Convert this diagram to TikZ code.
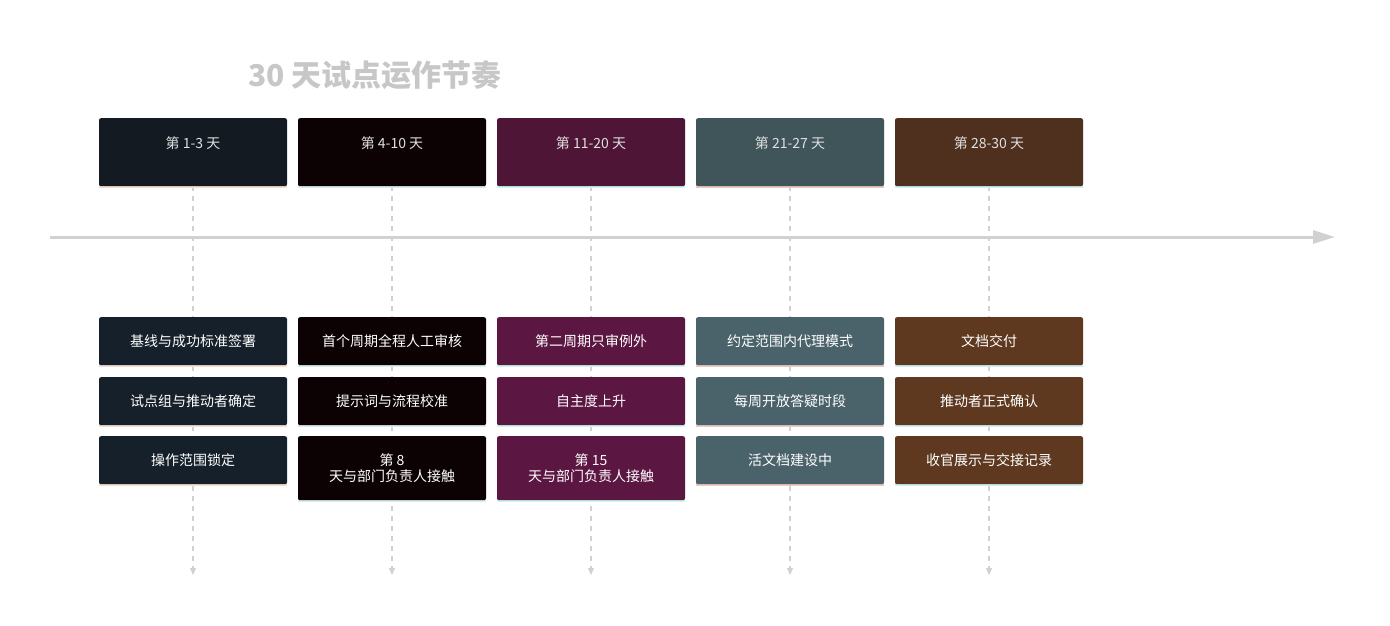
\documentclass[tikz,border=0pt]{standalone}
\usepackage{fontspec}
\setmainfont{Noto Sans CJK SC}
\usetikzlibrary{arrows.meta}
\definecolor{cA}{HTML}{131A22}\definecolor{cAb}{HTML}{16202A}
\definecolor{cB}{HTML}{0C0204}\definecolor{cBb}{HTML}{0C0204}
\definecolor{cC}{HTML}{4E1537}\definecolor{cCb}{HTML}{5B1641}
\definecolor{cD}{HTML}{3F555A}\definecolor{cDb}{HTML}{4A626A}
\definecolor{cE}{HTML}{4F2F1E}\definecolor{cEb}{HTML}{5E3920}
\definecolor{sA}{HTML}{F3DED0}\definecolor{sB}{HTML}{D8EEEA}
\definecolor{sC}{HTML}{CDF6EA}\definecolor{sD}{HTML}{E8C8C0}\definecolor{sE}{HTML}{CFEFF3}
\tikzset{
 box/.style={rounded corners=2pt,minimum width=188pt,inner sep=0pt,text=white,font=\fontsize{14}{16}\selectfont,align=center,anchor=north},
 top/.style={box,minimum height=68pt},
 sub/.style={box,minimum height=48pt},
 sub2/.style={box,minimum height=64pt},
 guide/.style={draw=black!18,line width=1.2pt,dash pattern=on 5pt off 5pt,-{Triangle[length=7pt,width=6pt]}},
}
\begin{document}
\begin{tikzpicture}[x=1pt,y=-1pt]
\useasboundingbox[fill=white] (0,0) rectangle (1390,625);
\node[anchor=west,text=black!22,font=\fontsize{30}{34}\selectfont\bfseries] (title) at (245,75) {30 天试点运作节奏};
\coordinate (a0) at (50,237); \coordinate (a1) at (1335,237);
\draw[draw=black!18,line width=3pt,-{Triangle[length=22pt,width=13pt]}] (a0) -- (a1);
\foreach \x/\c/\s/\t [count=\i] in {193/cA/sA/第 1-3 天,392/cB/sB/第 4-10 天,591/cC/sC/第 11-20 天,790/cD/sD/第 21-27 天,989/cE/sE/第 28-30 天}{
 \coordinate (d\i) at (\x,186); \coordinate (e\i) at (\x,575);
 \draw[guide] (d\i) -- (e\i);
 \fill[\s] (\x-94,184) rectangle (\x+94,188);
 \node[top,fill=\c] (t\i) at (\x,118) {};
 \node[text=white!88!black,font=\fontsize{14}{16}\selectfont] (tl\i) at (\x,143) {\t};
}
\foreach \x/\c/\s/\ta/\tb [count=\i] in {
193/cAb/sA/基线与成功标准签署/试点组与推动者确定,
392/cBb/sB/首个周期全程人工审核/提示词与流程校准,
591/cCb/sC/第二周期只审例外/自主度上升,
790/cDb/sD/约定范围内代理模式/每周开放答疑时段,
989/cEb/sE/文档交付/推动者正式确认}{
 \fill[\s] (\x-94,363) rectangle (\x+94,367);
 \fill[\s] (\x-94,423) rectangle (\x+94,427);
 \node[sub,fill=\c] (p\i) at (\x,317) {\ta};
 \node[sub,fill=\c] (q\i) at (\x,377) {\tb};
}
\fill[sA] (99,482) rectangle (287,486);
\node[sub,fill=cAb] (r1) at (193,436) {操作范围锁定};
\fill[sB] (298,498) rectangle (486,502);
\node[sub2,fill=cBb] (r2) at (392,436) {第 8\\天与部门负责人接触};
\fill[sC] (497,498) rectangle (685,502);
\node[sub2,fill=cCb] (r3) at (591,436) {第 15\\天与部门负责人接触};
\fill[sD] (696,482) rectangle (884,486);
\node[sub,fill=cDb] (r4) at (790,436) {活文档建设中};
\fill[sE] (895,482) rectangle (1083,486);
\node[sub,fill=cEb] (r5) at (989,436) {收官展示与交接记录};
\end{tikzpicture}
\end{document}
